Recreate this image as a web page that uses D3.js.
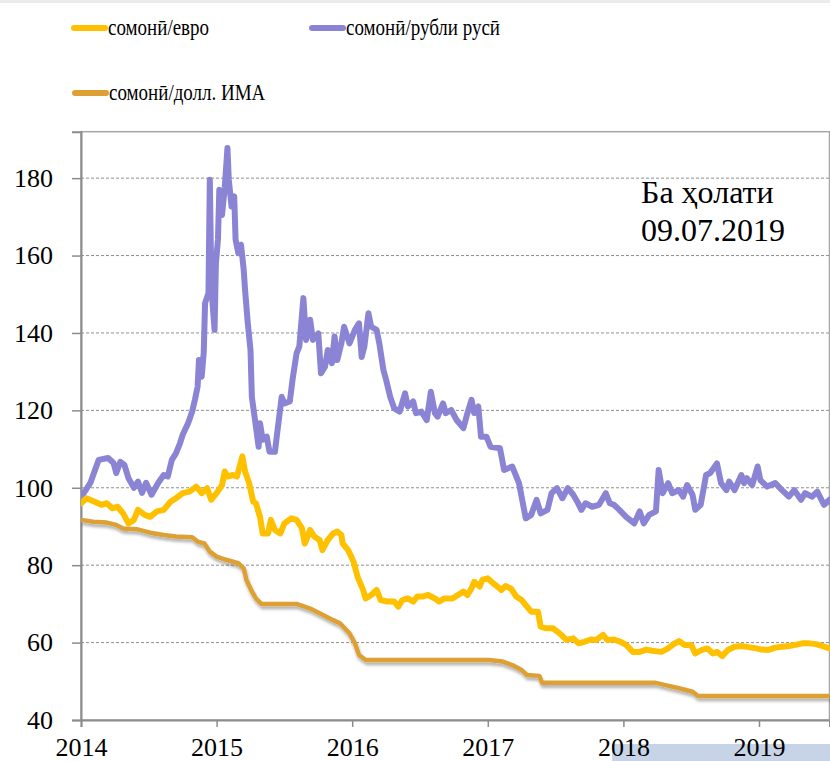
<!DOCTYPE html>
<html>
<head>
<meta charset="utf-8">
<script src="https://cdn.jsdelivr.net/npm/d3@7"></script>
<style>
  body { margin: 0; background: #fff; }
  svg { display: block; font-family: "Liberation Serif", "DejaVu Serif", serif; }
</style>
</head>
<body>
<div id="chart"></div>
<script>
// decimal years and values
let rubT = [2014.00,2014.07,2014.09,2014.13,2014.20,2014.24,2014.26,2014.29,2014.32,2014.35,2014.39,2014.42,2014.45,2014.48,2014.52,2014.57,2014.61,2014.64,2014.67,2014.70,2014.73,2014.75,2014.79,2014.82,2014.84,2014.86,2014.87,2014.89,2014.905,2014.915,2014.94,2014.95,2014.96,2014.97,2014.985,2014.995,2015.01,2015.02,2015.04,2015.06,2015.08,2015.09,2015.11,2015.13,2015.14,2015.16,2015.18,2015.20,2015.21,2015.23,2015.25,2015.26,2015.28,2015.31,2015.32,2015.34,2015.37,2015.39,2015.43,2015.45,2015.48,2015.50,2015.54,2015.56,2015.59,2015.61,2015.64,2015.66,2015.69,2015.71,2015.75,2015.77,2015.80,2015.82,2015.85,2015.87,2015.89,2015.92,2015.94,2015.98,2016.02,2016.05,2016.07,2016.09,2016.12,2016.14,2016.18,2016.20,2016.23,2016.25,2016.28,2016.31,2016.35,2016.39,2016.41,2016.45,2016.47,2016.51,2016.55,2016.58,2016.61,2016.63,2016.67,2016.69,2016.73,2016.77,2016.82,2016.85,2016.88,2016.90,2016.93,2016.95,2016.99,2017.02,2017.09,2017.12,2017.18,2017.23,2017.28,2017.32,2017.36,2017.39,2017.44,2017.47,2017.51,2017.55,2017.59,2017.63,2017.66,2017.69,2017.72,2017.77,2017.82,2017.87,2017.90,2017.93,2017.97,2018.02,2018.08,2018.12,2018.15,2018.19,2018.24,2018.26,2018.29,2018.33,2018.36,2018.41,2018.44,2018.47,2018.51,2018.53,2018.57,2018.61,2018.64,2018.69,2018.72,2018.76,2018.78,2018.82,2018.87,2018.89,2018.91,2018.95,2018.99,2019.01,2019.06,2019.12,2019.17,2019.22,2019.26,2019.31,2019.34,2019.39,2019.43,2019.48,2019.52];
let rubV = [97.5,101.3,103.3,107.2,107.7,106.4,103.8,106.7,105.9,102.5,100.0,101.6,98.7,101.3,98.2,101.3,103.3,102.9,107.2,108.9,111.5,113.7,116.7,119.7,122.7,126.1,133.0,128.7,134.8,147.7,150.3,179.6,156.3,147.7,140.8,158.0,164.1,177.0,170.5,177.5,187.8,179.6,172.7,175.3,164.1,160.6,162.8,156.3,151.1,142.5,135.6,123.5,118.4,110.6,116.7,112.4,113.2,109.3,109.3,115.0,123.5,121.8,122.3,127.9,134.8,136.5,149.0,138.2,143.4,138.2,139.9,129.6,131.3,135.6,132.2,139.1,133.0,137.3,141.6,137.3,140.8,142.5,133.8,136.5,145.1,141.6,140.8,137.3,130.5,127.9,123.5,120.5,119.7,124.4,121.0,122.3,119.3,119.7,117.5,124.8,119.3,118.4,121.8,119.3,120.1,117.5,115.4,119.3,122.7,119.3,121.0,113.2,113.2,110.6,110.2,104.6,105.5,101.2,92.1,93.0,96.9,93.4,94.3,98.6,99.9,97.3,99.9,98.2,96.4,94.3,96.0,95.1,95.6,98.6,96.0,95.6,94.3,92.5,90.8,93.9,90.8,93.0,93.9,104.6,98.6,101.2,98.6,99.4,97.7,100.7,98.2,94.3,95.6,103.3,103.8,106.3,101.2,99.4,101.6,99.4,103.3,101.2,102.5,100.7,105.5,102.0,100.3,101.2,99.4,97.7,99.4,96.9,98.6,97.7,99.0,95.6,96.9];

let eurT = [2014.00,2014.04,2014.10,2014.15,2014.19,2014.23,2014.27,2014.31,2014.35,2014.39,2014.42,2014.47,2014.51,2014.56,2014.61,2014.66,2014.70,2014.75,2014.80,2014.85,2014.89,2014.93,2014.96,2015.00,2015.04,2015.06,2015.08,2015.12,2015.15,2015.17,2015.19,2015.21,2015.24,2015.27,2015.29,2015.32,2015.34,2015.38,2015.40,2015.43,2015.47,2015.50,2015.55,2015.59,2015.63,2015.65,2015.69,2015.72,2015.76,2015.78,2015.82,2015.86,2015.89,2015.92,2015.93,2015.97,2016.01,2016.04,2016.08,2016.10,2016.14,2016.18,2016.21,2016.26,2016.31,2016.34,2016.37,2016.41,2016.45,2016.48,2016.52,2016.56,2016.61,2016.64,2016.68,2016.74,2016.78,2016.82,2016.85,2016.88,2016.90,2016.94,2016.96,2017.00,2017.04,2017.07,2017.10,2017.13,2017.17,2017.21,2017.25,2017.28,2017.32,2017.37,2017.39,2017.43,2017.48,2017.53,2017.58,2017.63,2017.67,2017.71,2017.76,2017.80,2017.85,2017.88,2017.93,2017.98,2018.02,2018.07,2018.12,2018.17,2018.21,2018.28,2018.33,2018.37,2018.41,2018.45,2018.50,2018.53,2018.58,2018.62,2018.66,2018.69,2018.73,2018.77,2018.82,2018.87,2018.91,2018.98,2019.02,2019.07,2019.12,2019.17,2019.22,2019.27,2019.32,2019.37,2019.42,2019.47,2019.52];
let eurV = [96.0,97.3,96.4,95.6,96.0,94.7,95.1,93.4,90.8,91.7,94.3,93.0,92.5,93.9,94.3,96.4,97.3,98.6,99.0,100.3,98.6,99.9,96.9,98.6,100.7,104.2,102.9,103.3,102.9,105.5,108.1,104.2,101.2,96.4,96.0,92.5,88.2,88.2,91.7,89.1,88.2,90.8,92.1,91.7,89.5,85.6,89.1,87.4,86.5,83.9,86.5,88.2,88.7,87.8,85.6,83.9,80.9,77.0,73.6,71.4,72.3,73.6,71.0,70.6,70.6,69.3,71.0,71.4,70.6,71.9,71.9,72.3,71.4,70.6,71.4,71.4,72.3,73.2,72.3,74.0,75.7,74.5,76.2,76.6,75.3,74.5,73.6,74.6,74.0,71.9,71.0,69.7,68.0,68.0,64.1,63.7,63.7,62.4,60.7,61.1,59.8,60.2,60.8,60.7,62.0,60.7,60.8,60.2,59.4,57.6,57.6,58.2,57.9,57.6,58.5,59.6,60.4,59.4,59.4,57.2,58.1,58.5,57.2,57.6,56.5,58.1,58.9,59.1,58.9,58.5,58.2,58.1,58.7,58.9,59.1,59.4,59.8,59.8,59.6,59.1,58.5];

let usdT = [2014.00,2014.09,2014.19,2014.26,2014.31,2014.41,2014.51,2014.61,2014.70,2014.82,2014.86,2014.91,2014.95,2015.00,2015.07,2015.16,2015.20,2015.22,2015.26,2015.29,2015.33,2015.59,2015.69,2015.76,2015.86,2015.91,2015.98,2016.02,2016.05,2016.10,2017.01,2017.11,2017.18,2017.25,2017.29,2017.38,2017.40,2018.24,2018.31,2018.41,2018.51,2018.55,2019.52];
let usdV = [91.7,91.2,91.0,90.4,89.5,89.3,88.4,87.8,87.4,87.2,86.1,85.6,83.5,82.2,81.4,80.5,79.2,76.2,73.2,71.4,70.0,70.0,68.8,67.6,65.8,65.0,62.4,59.8,56.8,55.5,55.5,55.1,54.2,52.9,51.6,51.4,49.6,49.6,49.0,48.2,47.3,46.2,46.2];

let seriesNames = ["сомонӣ/евро", "сомонӣ/рубли русӣ", "сомонӣ/долл. ИМА"];
let yTicks = [40, 60, 80, 100, 120, 140, 160, 180];
let xTicks = [2014, 2015, 2016, 2017, 2018, 2019];
let noteLines = ["Ба ҳолати", "09.07.2019"];

let width = 830;
let height = 761;
let margin = {top: 131.7, bottom: 41, left: 81, right: 0.5};

let svg = d3.select("#chart")
    .append("svg")
    .attr("width", width)
    .attr("height", height);

// faint shading along the top edge
svg.append("rect")
    .attr("x", 0).attr("y", 0)
    .attr("width", width).attr("height", 3)
    .attr("fill", "#ebebeb");

// blue strip bottom right
svg.append("rect")
    .attr("x", 612).attr("y", 744)
    .attr("width", 218).attr("height", 17)
    .attr("fill", "#c7d3e6");

let x = d3.scaleLinear()
    .domain([2014, 2019.52])
    .range([margin.left, width - margin.right]);

let y = d3.scaleLinear()
    .domain([40, 192])
    .range([height - margin.bottom, margin.top]);

let defs = svg.append("defs");
defs.append("clipPath").attr("id", "clip")
    .append("rect")
    .attr("x", margin.left).attr("y", margin.top - 10)
    .attr("width", width - margin.left).attr("height", height - margin.bottom - margin.top + 10);

let f = defs.append("filter").attr("id", "shadow")
    .attr("x", "-5%").attr("y", "-20%").attr("width", "110%").attr("height", "160%");
f.append("feDropShadow")
    .attr("dx", 1).attr("dy", 3).attr("stdDeviation", 1.6)
    .attr("flood-color", "#000").attr("flood-opacity", 0.3);

// gridlines
svg.append("g")
    .selectAll("line")
    .data(yTicks.slice(1))
    .join("line")
        .attr("x1", margin.left)
        .attr("x2", width)
        .attr("y1", d => y(d))
        .attr("y2", d => y(d))
        .attr("stroke", "#8f8f8f")
        .attr("stroke-width", 1)
        .attr("stroke-dasharray", "3,2");

// plot border
svg.append("rect")
    .attr("x", margin.left)
    .attr("y", margin.top)
    .attr("width", width - margin.right - margin.left)
    .attr("height", y(40) - margin.top)
    .attr("fill", "none")
    .attr("stroke", "#a6a6a6")
    .attr("stroke-width", 1.5);

function yAxis(g){
    g.attr("transform", `translate(${margin.left}, 0)`)
    .call(d3.axisLeft(y).tickValues(yTicks).tickSize(9).tickPadding(19).tickFormat(d3.format("d")))
    .call(g => g.select(".domain").attr("stroke", "#8c8c8c").attr("stroke-width", 2))
    .call(g => g.selectAll(".tick line").attr("stroke", "#8c8c8c").attr("stroke-width", 1.5))
    .attr("font-family", "Liberation Serif")
    .attr("font-size", "26px")
    .call(g => g.selectAll("text").attr("fill", "#000"));
}

function xAxis(g){
    g.attr("transform", `translate(0, ${y(40)})`)
    .call(d3.axisBottom(x).tickValues(xTicks).tickSize(7).tickPadding(11).tickFormat(d3.format("d")))
    .call(g => g.select(".domain").attr("stroke", "#8c8c8c").attr("stroke-width", 2))
    .call(g => g.selectAll(".tick line").attr("stroke", "#8c8c8c").attr("stroke-width", 1.5))
    .attr("font-family", "Liberation Serif")
    .attr("font-size", "26px")
    .call(g => g.selectAll("text").attr("fill", "#000"));
}

svg.append("g").call(yAxis);
svg.append("g").call(xAxis);

let line = d3.line()
    .x(d => x(d[0]))
    .y(d => y(d[1]))
    .curve(d3.curveLinear);

let plot = svg.append("g").attr("clip-path", "url(#clip)");

plot.append("path")
    .datum(d3.zip(rubT, rubV))
    .attr("d", line)
    .attr("fill", "none")
    .attr("stroke", "#8b84d4")
    .attr("stroke-width", 6)
    .attr("stroke-linejoin", "round")
    .attr("stroke-linecap", "round");

plot.append("path")
    .datum(d3.zip(eurT, eurV))
    .attr("d", line)
    .attr("fill", "none")
    .attr("stroke", "#ffc000")
    .attr("stroke-width", 6)
    .attr("stroke-linejoin", "round")
    .attr("stroke-linecap", "round");

plot.append("path")
    .datum(d3.zip(usdT, usdV))
    .attr("d", line)
    .attr("fill", "none")
    .attr("stroke", "#dca034")
    .attr("stroke-width", 4.5)
    .attr("stroke-linejoin", "round")
    .attr("filter", "url(#shadow)");

// legend
let legendColors = ["#ffc000", "#8b84d4", "#dca034"];
let legendPos = [[72, 28], [310, 28], [73, 93]];

let legend = svg.append("g")
    .selectAll("g")
    .data(seriesNames)
    .join("g")
    .attr("transform", (d, i) => `translate(${legendPos[i][0]}, ${legendPos[i][1]})`);

legend.append("line")
    .attr("x1", 2).attr("x2", 33)
    .attr("y1", 0).attr("y2", 0)
    .attr("stroke", (d, i) => legendColors[i])
    .attr("stroke-width", 6)
    .attr("stroke-linecap", "round");

// text is a little taller than it is wide in the original
legend.append("text")
    .attr("transform", "translate(36, 7) scale(1, 1.2)")
    .attr("font-size", "19px")
    .attr("fill", "#000")
    .text(d => d);

// date note
svg.append("text")
    .attr("x", 641)
    .attr("font-size", "32px")
    .attr("fill", "#000")
    .selectAll("tspan")
    .data(noteLines)
    .join("tspan")
        .attr("x", 641)
        .attr("y", (d, i) => 203 + i * 38)
        .text(d => d);
</script>
</body>
</html>
